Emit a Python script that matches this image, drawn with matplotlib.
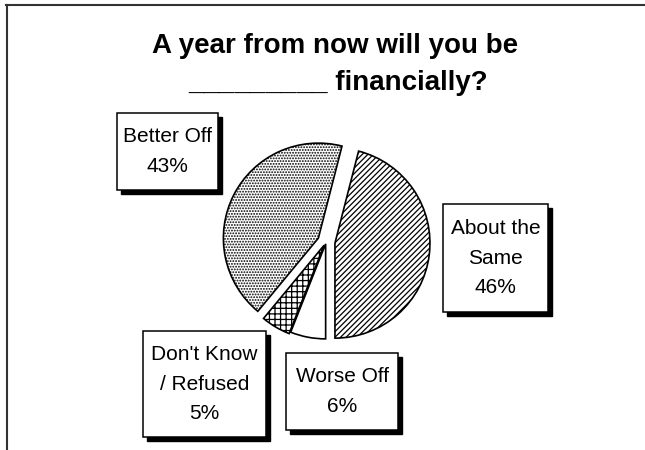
import matplotlib.pyplot as plt
from matplotlib.patches import Rectangle
from matplotlib.lines import Line2D

plt.rcParams['font.family'] = ['Liberation Sans', 'DejaVu Sans']
plt.rcParams['hatch.linewidth'] = 0.9

# answer shares, counter-clockwise from the bottom
labels = ['About the\nSame', 'Better Off', "Don't Know\n/ Refused", 'Worse Off']
pct = [46, 43, 5, 6]
hatches = ['//////', '......', '+++', '']
explode = [0.095, 0.09, 0.04, 0.02]

# label boxes in pixel coords: left, top, width, height
boxes = [(443, 204, 105, 108), (117, 113, 101, 77), (143, 331, 123, 106), (286, 353, 112, 77)]

H = 450
R = 95
fig = plt.figure(figsize=(6.45, 4.5), dpi=100)
ax = fig.add_axes([0, 0, 1, 1])

# pie explode is in data units, so scale by the radius
wedges, _ = ax.pie(pct, startangle=-90, center=(326, H - 242), radius=R,
                   explode=[e * R for e in explode],
                   wedgeprops=dict(facecolor='white', edgecolor='black', linewidth=1.2))
for w, h in zip(wedges, hatches):
    w.set_hatch(h)

ax.set_xlim(0, 645)
ax.set_ylim(0, H)
ax.axis('off')

# boxes with drop shadow
for (x0, top, bw, bh), lab, p in zip(boxes, labels, pct):
    ax.add_patch(Rectangle((x0 + 4, H - top - bh - 4), bw, bh, facecolor='black', edgecolor='black', zorder=3))
    ax.add_patch(Rectangle((x0, H - top - bh), bw, bh, facecolor='white', edgecolor='black', linewidth=1.1, zorder=4))
    ax.text(x0 + bw / 2, H - top - bh / 2, f'{lab}\n{p}%', ha='center', va='center',
            fontsize=15, linespacing=1.7, zorder=5)

ax.text(335, H - 46, 'A year from now will you be', ha='center', va='center',
        fontsize=20, fontweight='bold')
ax.text(338, H - 83, '_________ financially?', ha='center', va='center',
        fontsize=20, fontweight='bold')

# outer frame (top and left only)
fig.add_artist(Line2D([6, 645], [H - 5, H - 5], transform=None, color='#333333', linewidth=1.5))
fig.add_artist(Line2D([7, 7], [H - 5, 0], transform=None, color='#333333', linewidth=1.5))

fig.savefig('out.png', dpi=100)
